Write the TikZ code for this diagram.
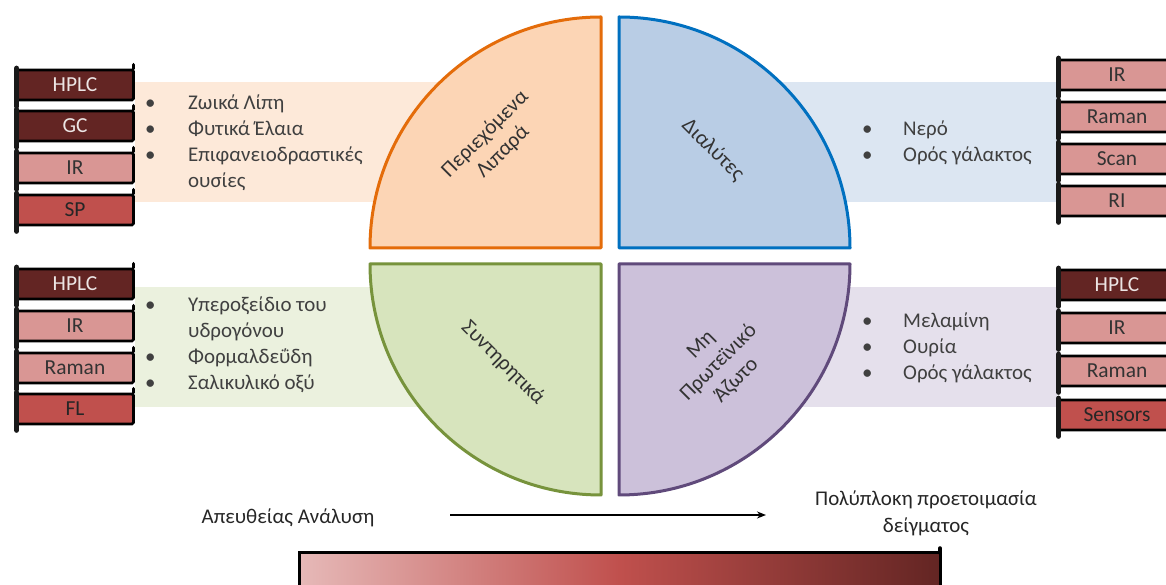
\documentclass[tikz,border=0pt]{standalone}
\usepackage{fontspec}
\setmainfont{Carlito}
\usetikzlibrary{arrows.meta}
\definecolor{cDark}{HTML}{632523}
\definecolor{cLight}{HTML}{D99694}
\definecolor{cMid}{HTML}{C0504D}
\definecolor{cGradL}{HTML}{E6B9B8}
\definecolor{bandO}{HTML}{FDE9D9}
\definecolor{bandB}{HTML}{DCE6F2}
\definecolor{bandG}{HTML}{EBF1DE}
\definecolor{bandP}{HTML}{E5E0EC}
\definecolor{fillO}{HTML}{FCD5B5}
\definecolor{fillB}{HTML}{B9CDE5}
\definecolor{fillG}{HTML}{D7E4BD}
\definecolor{fillP}{HTML}{CCC1DA}
\definecolor{lineO}{HTML}{E46C0A}
\definecolor{lineB}{HTML}{0070C0}
\definecolor{lineG}{HTML}{77933C}
\definecolor{lineP}{HTML}{604A7B}
\definecolor{txt}{HTML}{404040}
\tikzset{
  inst/.style={draw=black, line width=2.7bp, rounded corners=1.5bp, minimum width=117bp, minimum height=30bp, inner sep=0pt, font=\fontsize{21.5}{24}\selectfont},
  darkbox/.style={fill=cDark, text=white!88!cDark},
  lightbox/.style={fill=cLight, text=black!80},
  midbox/.style={fill=cMid, text=black!85},
  scrollbar/.style={draw=black!90, line width=5bp, line cap=round},
  knob/.style={draw=black, line width=3.5bp, line cap=round},
  quad/.style={line width=3bp, line join=round},
  listtxt/.style={text=txt, anchor=west, inner sep=0pt, font=\fontsize{21}{26}\selectfont, align=left},
  qlabel/.style={text=black!80, align=center, inner sep=0pt, font=\fontsize{21.5}{25}\selectfont},
  captxt/.style={text=black!85, align=center, inner sep=0pt, font=\fontsize{21}{27}\selectfont}
}
\newcommand{\ibox}[5]{%
  \node[inst,#4] (#1) at (#2,#3) {#5};
  \draw[scrollbar] ([xshift=1.5bp,yshift=0.5bp]#1.north west) -- ([xshift=1.5bp,yshift=-5bp]#1.south west);
  \draw[knob] ([xshift=-1.2bp]#1.north east) -- ([xshift=-1.2bp,yshift=4bp]#1.north east);
}
\begin{document}
\begin{tikzpicture}[x=1bp,y=1bp]
\useasboundingbox (0,0) rectangle (1166,585);
\clip (0,0) rectangle (1166,585);
\fill[white] (0,0) rectangle (1166,585);
% bands
\fill[bandO] (135,383) rectangle (500,503);
\fill[bandB] (720,383) rectangle (1057,503);
\fill[bandG] (135,178) rectangle (500,298);
\fill[bandP] (720,178) rectangle (1057,298);
% quadrants
\draw[quad, draw=lineO, fill=fillO] (601,337) -- (370,337) arc[start angle=180, end angle=90, radius=231bp] -- cycle;
\draw[quad, draw=lineB, fill=fillB] (619,337) -- (619,568) arc[start angle=90, end angle=0, radius=231bp] -- cycle;
\draw[quad, draw=lineG, fill=fillG] (601,321) -- (370,321) arc[start angle=180, end angle=270, radius=231bp] -- cycle;
\draw[quad, draw=lineP, fill=fillP] (619,321) -- (850,321) arc[start angle=0, end angle=-90, radius=231bp] -- cycle;
% quadrant labels
\node[qlabel, rotate=45] (qlip) at (494,442) {Περιεχόμενα\\Λιπαρά};
\node[qlabel, rotate=-45] (qsol) at (713,435) {Διαλύτες};
\node[qlabel, rotate=-45] (qpre) at (503,222) {Συντηρητικά};
\node[qlabel, rotate=45] (qnit) at (719,222) {Μη\\Πρωτεϊνικό\\Άζωτο};
% lists
\node[listtxt] (ltl) at (145,442) {\begin{tabular}{@{}p{43bp}@{}l@{}}•&Ζωικά Λίπη\\ •&Φυτικά Έλαια\\ •&Επιφανειοδραστικές\\ &ουσίες\end{tabular}};
\node[listtxt] (ltr) at (862,442) {\begin{tabular}{@{}p{41bp}@{}l@{}}•&Νερό\\ •&Ορός γάλακτος\end{tabular}};
\node[listtxt] (lbl) at (145,240) {\begin{tabular}{@{}p{43bp}@{}l@{}}•&Υπεροξείδιο του\\ &υδρογόνου\\ •&Φορμαλδεΰδη\\ •&Σαλικυλικό οξύ\end{tabular}};
\node[listtxt] (lbr) at (862,237) {\begin{tabular}{@{}p{41bp}@{}l@{}}•&Μελαμίνη\\ •&Ουρία\\ •&Ορός γάλακτος\end{tabular}};
% left boxes top
\ibox{a1}{75}{500}{darkbox}{HPLC}
\ibox{a2}{75}{459}{darkbox}{GC}
\ibox{a3}{75}{417}{lightbox}{IR}
\ibox{a4}{75}{375}{midbox}{SP}
% left boxes bottom
\ibox{b1}{75}{301}{darkbox}{HPLC}
\ibox{b2}{75}{259}{lightbox}{IR}
\ibox{b3}{75}{217}{lightbox}{Raman}
\ibox{b4}{75}{176}{midbox}{FL}
% right boxes top
\ibox{c1}{1117}{510}{lightbox}{IR}
\ibox{c2}{1117}{468}{lightbox}{Raman}
\ibox{c3}{1117}{426}{lightbox}{Scan}
\ibox{c4}{1117}{384}{lightbox}{RI}
% right boxes bottom
\ibox{d1}{1117}{300}{darkbox}{HPLC}
\ibox{d2}{1117}{257}{lightbox}{IR}
\ibox{d3}{1117}{214}{lightbox}{Raman}
\ibox{d4}{1117}{170}{midbox}{Sensors}
% bottom
\node[captxt] (direct) at (288,67) {Απευθείας Ανάλυση};
\node[captxt] (complex) at (926,72) {Πολύπλοκη προετοιμασία\\δείγματος};
\coordinate (arrS) at (450,70);
\coordinate (arrE) at (766,70);
\draw[line width=1.8bp, -{Stealth[length=9bp,width=7bp]}] (arrS) -- (arrE);
\shade[left color=cGradL, right color=cDark, middle color=cMid] (299,-20) rectangle (940,32);
\draw[line width=3bp] (299,-20) -- (299,32) -- (940,32) -- (940,-20);
\draw[knob] (940,32) -- (940,37);
\end{tikzpicture}
\end{document}
